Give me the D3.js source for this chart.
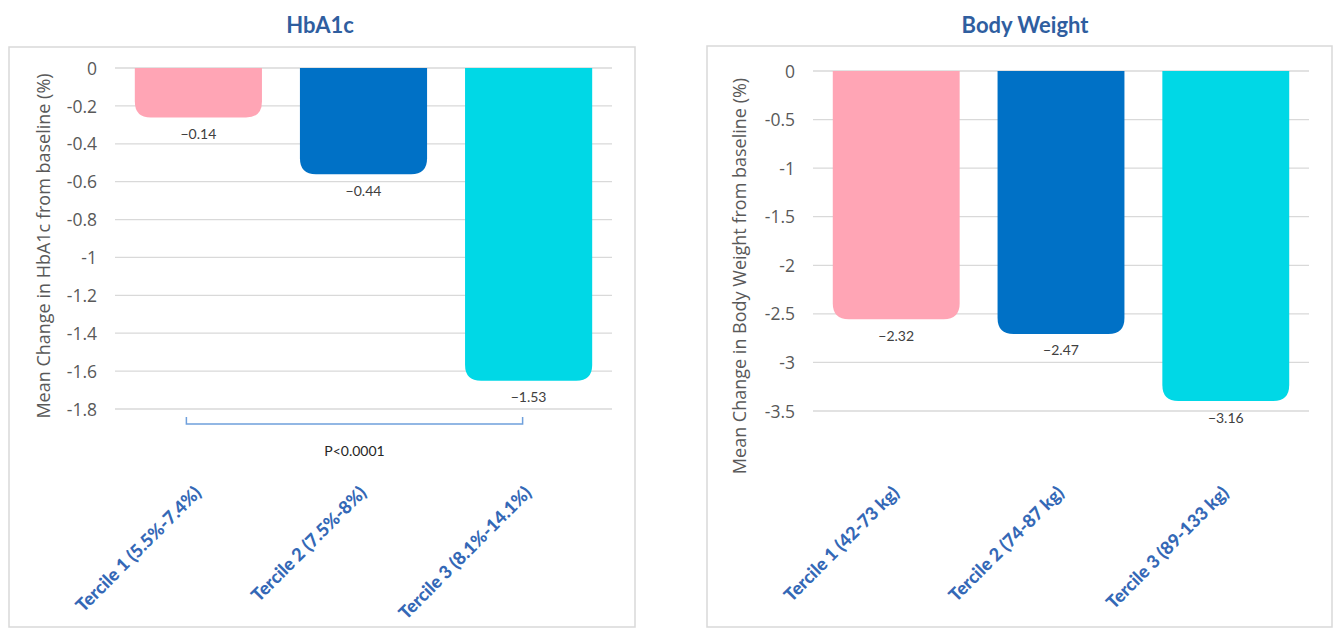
<!DOCTYPE html>
<html>
<head>
<meta charset="utf-8">
<script src="https://cdn.jsdelivr.net/npm/d3@7"></script>
<style>
  html, body { margin: 0; padding: 0; background: #ffffff; }
  svg { display: block; }
</style>
</head>
<body>
<svg id="chart" width="1333" height="628"></svg>
<script>
// ---- data ----
const hba1cCategories = ["Tercile 1 (5.5%-7.4%)", "Tercile 2 (7.5%-8%)", "Tercile 3 (8.1%-14.1%)"];
const hba1cValues = [-0.14, -0.44, -1.53];
const hba1cLabels = ["\u22120.14", "\u22120.44", "\u22121.53"];
const hba1cTicks = [0, -0.2, -0.4, -0.6, -0.8, -1, -1.2, -1.4, -1.6, -1.8];
const hba1cTickLabels = ["0", "-0.2", "-0.4", "-0.6", "-0.8", "-1", "-1.2", "-1.4", "-1.6", "-1.8"];

const weightCategories = ["Tercile 1 (42-73 kg)", "Tercile 2 (74-87 kg)", "Tercile 3 (89-133 kg)"];
const weightValues = [-2.32, -2.47, -3.16];
const weightLabels = ["\u22122.32", "\u22122.47", "\u22123.16"];
const weightTicks = [0, -0.5, -1, -1.5, -2, -2.5, -3, -3.5];
const weightTickLabels = ["0", "-0.5", "-1", "-1.5", "-2", "-2.5", "-3", "-3.5"];

const barColors = ["#FFA5B5", "#0071C6", "#00D8E6"];
const pText = "P<0.0001";

// ---- drawing ----
const svg = d3.select("#chart");

function drawPanel(o) {
  const g = svg.append("g");
  // panel box
  g.append("rect")
    .attr("x", o.box[0]).attr("y", o.box[1])
    .attr("width", o.box[2] - o.box[0]).attr("height", o.box[3] - o.box[1])
    .attr("fill", "none").attr("stroke", "#D9D9D9").attr("stroke-width", 1.5);

  // title
  g.append("text")
    .attr("x", o.titlePos[0]).attr("y", o.titlePos[1])
    .attr("text-anchor", "middle").attr("dominant-baseline", "middle")
    .attr("font-family", "Lato, 'Open Sans', sans-serif")
    .attr("font-weight", "bold").attr("font-size", 22)
    .attr("fill", "#2F5E9F")
    .text(o.title);

  const x = d3.scaleBand().domain(o.categories).range(o.xRange)
    .paddingInner(0.23).paddingOuter(0.12);
  const y = d3.scaleLinear().domain([0, o.ticks[o.ticks.length - 1]]).range(o.yRange);

  // gridlines
  g.append("g").selectAll("line").data(o.ticks).join("line")
    .attr("x1", o.xRange[0]).attr("x2", o.xRange[1])
    .attr("y1", d => y(d)).attr("y2", d => y(d))
    .attr("stroke", "#D9D9D9").attr("stroke-width", 1.3);

  // y axis (labels only)
  const yAxis = d3.axisLeft(y).tickValues(o.ticks)
    .tickFormat((d, i) => o.tickLabels[i]).tickSize(0).tickPadding(18);
  const ya = g.append("g").attr("transform", `translate(${o.xRange[0]},0)`).call(yAxis);
  ya.select(".domain").remove();
  ya.selectAll("text")
    .attr("font-family", "'Open Sans', sans-serif").attr("font-size", 17.5)
    .attr("fill", "#595959").attr("dy", "0.35em");

  // y axis title
  g.append("text")
    .attr("transform", `translate(${o.yTitlePos[0]},${o.yTitlePos[1]}) rotate(-90)`)
    .attr("text-anchor", "middle").attr("dominant-baseline", "middle")
    .attr("font-family", "'Open Sans', sans-serif").attr("font-size", 18)
    .attr("fill", "#595959")
    .text(o.yTitle);

  // bars with rounded bottom caps
  const capExtra = 23, r = 16;
  const barPath = (d, i) => {
    const x0 = x(o.categories[i]), w = x.bandwidth();
    const yt = y(0), yb = y(d) + capExtra;
    return `M${x0},${yt} H${x0 + w} V${yb - r} Q${x0 + w},${yb} ${x0 + w - r},${yb} H${x0 + r} Q${x0},${yb} ${x0},${yb - r} Z`;
  };
  g.append("g").selectAll("path").data(o.values).join("path")
    .attr("d", barPath)
    .attr("fill", (d, i) => barColors[i]);

  // value labels
  g.append("g").selectAll("text").data(o.values).join("text")
    .attr("x", (d, i) => x(o.categories[i]) + x.bandwidth() / 2)
    .attr("y", d => y(d) + capExtra + 18)
    .attr("text-anchor", "middle").attr("dominant-baseline", "middle")
    .attr("font-family", "Lato, 'Open Sans', sans-serif").attr("font-size", 14)
    .attr("fill", "#404040")
    .text((d, i) => o.labels[i]);

  // category labels
  g.append("g").selectAll("text").data(o.categories).join("text")
    .attr("transform", d => `translate(${x(d) + x.bandwidth() / 2 + 4},${o.catY}) rotate(-45)`)
    .attr("text-anchor", "end")
    .attr("font-family", "Lato, 'Open Sans', sans-serif")
    .attr("font-weight", 900).attr("font-size", 18)
    .attr("fill", "#3468B6")
    .text(d => d);

  return { x, y, g };
}

const left = drawPanel({
  box: [9, 47, 635, 627],
  title: "HbA1c", titlePos: [320, 27],
  categories: hba1cCategories, values: hba1cValues, labels: hba1cLabels,
  ticks: hba1cTicks, tickLabels: hba1cTickLabels,
  xRange: [115, 612], yRange: [68, 409],
  yTitle: "Mean Change in HbA1c from baseline (%)", yTitlePos: [45, 246],
  catY: 494
});

const right = drawPanel({
  box: [707, 46, 1332, 627],
  title: "Body Weight", titlePos: [1025, 27],
  categories: weightCategories, values: weightValues, labels: weightLabels,
  ticks: weightTicks, tickLabels: weightTickLabels,
  xRange: [813, 1309], yRange: [71, 411],
  yTitle: "Mean Change in Body Weight from baseline (%)", yTitlePos: [741, 276],
  catY: 494
});

// significance bracket on HbA1c panel
{
  const { x, y, g } = left;
  const c0 = x(hba1cCategories[0]) + x.bandwidth() / 2 - 12;
  const c2 = x(hba1cCategories[2]) + x.bandwidth() / 2 - 6;
  const yb = y(hba1cTicks[hba1cTicks.length - 1]);
  g.append("path")
    .attr("d", `M${c0},${yb + 8} V${yb + 15} H${c2} V${yb + 8}`)
    .attr("fill", "none").attr("stroke", "#6FA0DC").attr("stroke-width", 1.5);
  g.append("text")
    .attr("x", (c0 + c2) / 2).attr("y", yb + 43)
    .attr("text-anchor", "middle").attr("dominant-baseline", "middle")
    .attr("font-family", "Lato, 'Open Sans', sans-serif").attr("font-size", 14)
    .attr("fill", "#262626")
    .text(pText);
}
</script>
</body>
</html>
